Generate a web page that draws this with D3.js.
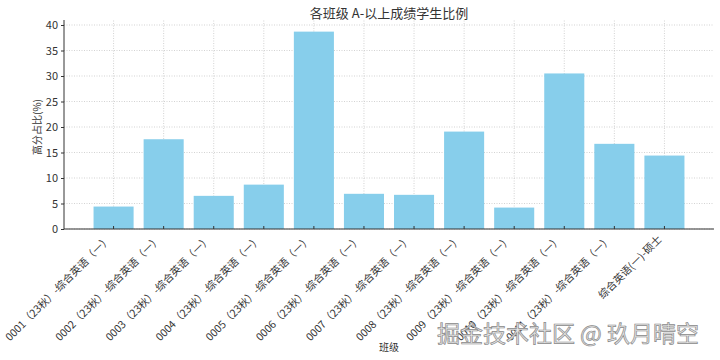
<!DOCTYPE html>
<html>
<head>
<meta charset="utf-8">
<script src="https://cdn.jsdelivr.net/npm/d3@7"></script>
<style>
  body { margin: 0; background: #fff; }
  text { font-family: "Noto Sans CJK SC", "DejaVu Sans", sans-serif; fill: #333; }
</style>
</head>
<body>
<div id='chart'></div>

<script>
  // data
  var classes = [
    '0001（23秋）-综合英语（一）',
    '0002（23秋）-综合英语（一）',
    '0003（23秋）-综合英语（一）',
    '0004（23秋）-综合英语（一）',
    '0005（23秋）-综合英语（一）',
    '0006（23秋）-综合英语（一）',
    '0007（23秋）-综合英语（一）',
    '0008（23秋）-综合英语（一）',
    '0009（23秋）-综合英语（一）',
    '0010（23秋）-综合英语（一）',
    '0011（23秋）-综合英语（一）',
    '综合英语(一)-硕士'
  ]
  var shares = [4.4, 17.6, 6.5, 8.7, 38.7, 6.9, 6.7, 19.1, 4.2, 30.5, 16.7, 14.4]
  var yTicks = [0, 5, 10, 15, 20, 25, 30, 35, 40]

  var W = 720, H = 360
  var mLeft = 64, mRight = 714, mTop = 25, mBottom = 229

  var svg = d3.select('#chart')
              .append('svg')
              .attr('width', W)
              .attr('height', H)

  // matplotlib-like layout: index scale with margins
  var x = d3.scaleLinear()
            .domain([-0.99, classes.length - 1 + 0.99])
            .range([mLeft, mRight])
  var bw = x(0.4) - x(-0.4)

  var y = d3.scaleLinear()
            .domain([0, 40])
            .range([mBottom, mTop])

  // grid
  var grid = svg.append('g')
  grid.selectAll('line.h')
      .data(yTicks)
      .enter()
      .append('line')
      .attr('x1', mLeft).attr('x2', mRight)
      .attr('y1', function(d) { return y(d) })
      .attr('y2', function(d) { return y(d) })
      .attr('stroke', '#c8c8c8')
      .attr('stroke-width', 0.8)
      .attr('stroke-dasharray', '1,1.5')
  grid.selectAll('line.v')
      .data(classes)
      .enter()
      .append('line')
      .attr('x1', function(d, i) { return x(i) })
      .attr('x2', function(d, i) { return x(i) })
      .attr('y1', mBottom).attr('y2', 20)
      .attr('stroke', '#c8c8c8')
      .attr('stroke-width', 0.8)
      .attr('stroke-dasharray', '1,1.5')

  // bars
  svg.selectAll('rect')
     .data(shares)
     .enter()
     .append('rect')
     .attr('x', function(d, i) { return x(i) - bw / 2 })
     .attr('y', function(d) { return y(d) })
     .attr('width', bw)
     .attr('height', function(d) { return mBottom - y(d) })
     .attr('fill', '#87ceeb')

  // y axis
  var yAxis = d3.axisLeft(y)
                .tickValues(yTicks)
                .tickSize(3)
                .tickPadding(3)
  var gy = svg.append('g')
              .attr('transform', 'translate(' + mLeft + ',0)')
              .call(yAxis)
  gy.select('.domain').attr('d', 'M0,20V' + mBottom).attr('stroke', '#333')
  gy.selectAll('text').style('font-size', '11px').attr('fill', '#333')
  gy.selectAll('.tick line').attr('stroke', '#333')

  // x axis line and inward ticks
  svg.append('line')
     .attr('x1', mLeft).attr('x2', mRight)
     .attr('y1', mBottom).attr('y2', mBottom)
     .attr('stroke', '#333')
  svg.selectAll('line.xt')
     .data(classes)
     .enter()
     .append('line')
     .attr('x1', function(d, i) { return x(i) })
     .attr('x2', function(d, i) { return x(i) })
     .attr('y1', mBottom).attr('y2', mBottom - 3)
     .attr('stroke', '#333')

  // x labels
  svg.selectAll('text.xl')
     .data(classes)
     .enter()
     .append('text')
     .attr('text-anchor', 'end')
     .attr('transform', function(d, i) {
       return 'translate(' + (x(i) - 2) + ',' + (mBottom + 11) + ') rotate(-45)'
     })
     .style('font-size', '10.5px')
     .text(function(d) { return d })

  // titles
  svg.append('text')
     .attr('x', (mLeft + mRight) / 2)
     .attr('y', 18)
     .attr('text-anchor', 'middle')
     .style('font-size', '13px')
     .text('各班级 A-以上成绩学生比例')
  svg.append('text')
     .attr('transform', 'translate(41,' + ((mTop + mBottom) / 2) + ') rotate(-90)')
     .attr('text-anchor', 'middle')
     .style('font-size', '10px')
     .text('高分占比(%)')
  svg.append('text')
     .attr('x', 389)
     .attr('y', 351)
     .attr('text-anchor', 'middle')
     .style('font-size', '10px')
     .text('班级')

  // watermark
  svg.append('text')
     .attr('x', 568)
     .attr('y', 342)
     .attr('text-anchor', 'middle')
     .style('font-size', '23px')
     .style('fill', '#e6e6e6')
     .attr('stroke', '#8a8a8a')
     .attr('stroke-width', 0.7)
     .text('掘金技术社区 @ 玖月晴空')
</script>
</body>
</html>
